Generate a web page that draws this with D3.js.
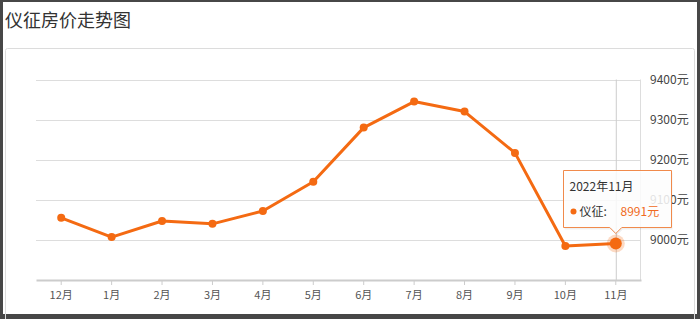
<!DOCTYPE html>
<html><head><meta charset="utf-8">
<script src="https://cdn.jsdelivr.net/npm/d3@7"></script>
<style>
html,body{margin:0;padding:0;background:#fff;}
body{width:700px;height:319px;overflow:hidden;font-family:"Noto Sans CJK SC","Noto Sans",sans-serif;}
</style></head>
<body><svg id="c" width="700" height="319"></svg>
<script>
const title = "仪征房价走势图";
const categories = ["12月","1月","2月","3月","4月","5月","6月","7月","8月","9月","10月","11月"];
const values = [9055, 9007, 9047, 9040, 9072, 9145, 9280, 9345, 9320, 9217, 8985, 8991];
const yTicks = [9000, 9100, 9200, 9300, 9400];
const yDomain = [8900, 9400];
const seriesName = "仪征";
const tooltipTitle = "2022年11月";
const unit = "元";
const activeIndex = 11;

(function(){
const svg = d3.select("#c");
const orange = "#f46a12";

// outer dark frame
svg.append("rect").attr("x",0).attr("y",0).attr("width",700).attr("height",319).attr("fill","#474747");
svg.append("rect").attr("x",3).attr("y",2).attr("width",694).attr("height",312).attr("fill","#fff");
// inner panel
svg.append("rect").attr("x",5.5).attr("y",48.5).attr("width",689).attr("height",275).attr("fill","none")
  .attr("stroke","#dcdcdc").attr("rx",2);

svg.append("text").attr("x",5).attr("y",27).attr("font-size",18).attr("fill","#333").text(title);

const pl = 36, pr = 641, pt = 79.5, pb = 280;
const x = d3.scaleBand().domain(categories).range([pl,pr]);
const y = d3.scaleLinear().domain(yDomain).range([pb, pt]);

// gridlines
svg.append("g").selectAll("line").data(yTicks).join("line")
  .attr("x1",pl).attr("x2",pr).attr("y1",d=>Math.round(y(d))+0.5).attr("y2",d=>Math.round(y(d))+0.5)
  .attr("stroke","#dddddd").attr("stroke-width",1);

// right y axis line
svg.append("line").attr("x1",pr-0.5).attr("x2",pr-0.5).attr("y1",pt).attr("y2",pb).attr("stroke","#dddddd");

// y labels
const yAxis = d3.axisRight(y).tickValues(yTicks).tickSize(0).tickPadding(9).tickFormat(d=>d+unit);
const gy = svg.append("g").attr("transform",`translate(${pr},0)`).call(yAxis);
gy.select(".domain").remove();
gy.selectAll("text").attr("font-size",12).attr("fill","#444").attr("font-family","'Noto Sans CJK SC',sans-serif");

// x axis
const xAxis = d3.axisBottom(x).tickSizeInner(5).tickSizeOuter(0).tickPadding(6);
const gx = svg.append("g").attr("transform",`translate(0,${pb})`).call(xAxis);
gx.select(".domain").attr("stroke","#cccccc").attr("stroke-width",2);
gx.selectAll(".tick line").attr("stroke","#cccccc");
gx.selectAll("text").attr("font-size",11).attr("fill","#555").attr("font-family","'Noto Sans CJK SC',sans-serif");

// axis pointer
const cx = x(categories[activeIndex]) + x.bandwidth()/2;
svg.append("line").attr("x1",cx+0.5).attr("x2",cx+0.5).attr("y1",pt).attr("y2",pb).attr("stroke","#cccccc");

// line
const line = d3.line().x((d,i)=>x(categories[i])+x.bandwidth()/2).y(d=>y(d));
svg.append("path").datum(values).attr("d",line).attr("fill","none").attr("stroke",orange)
  .attr("stroke-width",3).attr("stroke-linejoin","round");
svg.append("g").selectAll("circle").data(values).join("circle")
  .attr("cx",(d,i)=>x(categories[i])+x.bandwidth()/2).attr("cy",d=>y(d)).attr("r",4).attr("fill",orange);

// active point
svg.append("circle").attr("cx",cx).attr("cy",y(values[activeIndex])).attr("r",9).attr("fill",orange).attr("opacity",0.25);
svg.append("circle").attr("cx",cx).attr("cy",y(values[activeIndex])).attr("r",6).attr("fill",orange);

// tooltip
const tx = 563.5, ty = 170.5, tw = 108, th = 57;
const tip = svg.append("g");
const tipPath = `M${tx},${ty} H${tx+tw} V${ty+th} H${cx+6} L${cx},${ty+th+6} L${cx-6},${ty+th} H${tx} Z`;
tip.append("path").attr("d",tipPath).attr("fill","rgba(0,0,0,0.06)").attr("transform","translate(1,2)");
tip.append("path").attr("d",tipPath).attr("fill","rgba(255,255,255,0.85)").attr("stroke","#f08a4b").attr("stroke-width",1);
tip.append("text").attr("x",tx+6).attr("y",ty+20).attr("font-size",12).attr("fill","#333").text(tooltipTitle);
tip.append("circle").attr("cx",tx+10).attr("cy",ty+41).attr("r",3).attr("fill",orange);
tip.append("text").attr("x",tx+16).attr("y",ty+45).attr("font-size",12).attr("fill","#333").text(seriesName+":");
tip.append("text").attr("x",tx+57).attr("y",ty+45).attr("font-size",12).attr("fill","#f06a22").text(values[activeIndex]+unit);
})();
</script></body></html>
